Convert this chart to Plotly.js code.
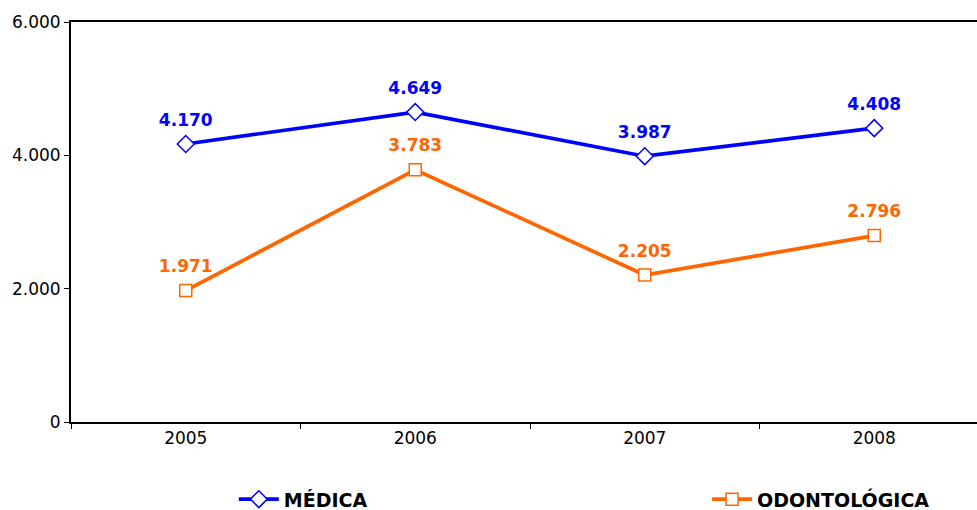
<!DOCTYPE html>
<html>
<head>
<meta charset="utf-8">
<script src="https://cdn.plot.ly/plotly-3.0.1.min.js"></script>
<style>html,body{margin:0;padding:0;overflow:hidden;background:#fff;}#chart{width:995px;height:510px;}</style>
</head>
<body>
<div id="chart"></div>
<script>
const years = ["2005", "2006", "2007", "2008"];
const medica = [4170, 4649, 3987, 4408];
const odontologica = [1971, 3783, 2205, 2796];
const seriesNames = ["MÉDICA", "ODONTOLÓGICA"];
const seriesColors = ["#0000FF", "#FF6600"];
const yTicks = [0, 2000, 4000, 6000];

const font = "DejaVu Sans, Verdana, sans-serif";

const traces = [];
[medica, odontologica].forEach((vals, s) => {
  traces.push({
    x: years, y: vals, name: seriesNames[s], type: "scatter", mode: "lines+markers",
    legend: s === 0 ? "legend" : "legend2",
    line: {color: seriesColors[s], width: 3.7},
    marker: {symbol: s === 0 ? "diamond" : "square", size: s === 0 ? 13 : 12, color: "#FFFFFF",
             line: {color: seriesColors[s], width: 1.5}},
    cliponaxis: false
  });
});
[medica, odontologica].forEach((vals, s) => {
  traces.push({
    x: years, y: vals, type: "scatter", mode: "markers+text", showlegend: false, hoverinfo: "skip",
    marker: {size: 21, opacity: 0},
    texttemplate: "%{y:,d}", textposition: "top center",
    textfont: {family: font, size: 17, color: seriesColors[s], weight: "bold"},
    cliponaxis: false
  });
});

const legendBase = {
  orientation: "h", xref: "container", xanchor: "left",
  yref: "container", y: 0.021, yanchor: "middle",
  font: {family: font, size: 19, color: "#000000", weight: "bold"},
  itemwidth: 40, bgcolor: "rgba(0,0,0,0)"
};

const layout = {
  width: 995, height: 510,
  separators: ",.",
  margin: {l: 71, r: 6, t: 22, b: 88, autoexpand: false},
  paper_bgcolor: "#FFFFFF", plot_bgcolor: "#FFFFFF",
  font: {family: font, size: 17, color: "#000000"},
  showlegend: true,
  legend: Object.assign({}, legendBase, {x: 0.235}),
  legend2: Object.assign({}, legendBase, {x: 0.7106}),
  xaxis: {
    type: "category", range: [-0.5, 3.5],
    showline: true, linecolor: "#000000", linewidth: 2, mirror: true,
    ticks: "outside", tickson: "boundaries", ticklen: 5, tickcolor: "#000000", tickwidth: 1,
    showgrid: false, zeroline: false, fixedrange: true,
    tickfont: {family: font, size: 17, color: "#000000"}
  },
  yaxis: {
    range: [0, 6000], tickvals: yTicks, tickformat: ",d",
    showline: true, linecolor: "#000000", linewidth: 2, mirror: true,
    ticks: "outside", ticklen: 5, tickcolor: "#000000", tickwidth: 1,
    showgrid: false, zeroline: false, fixedrange: true,
    tickfont: {family: font, size: 17, color: "#000000"}
  }
};

Plotly.newPlot("chart", traces, layout, {displayModeBar: false, staticPlot: true});
</script>
</body>
</html>
